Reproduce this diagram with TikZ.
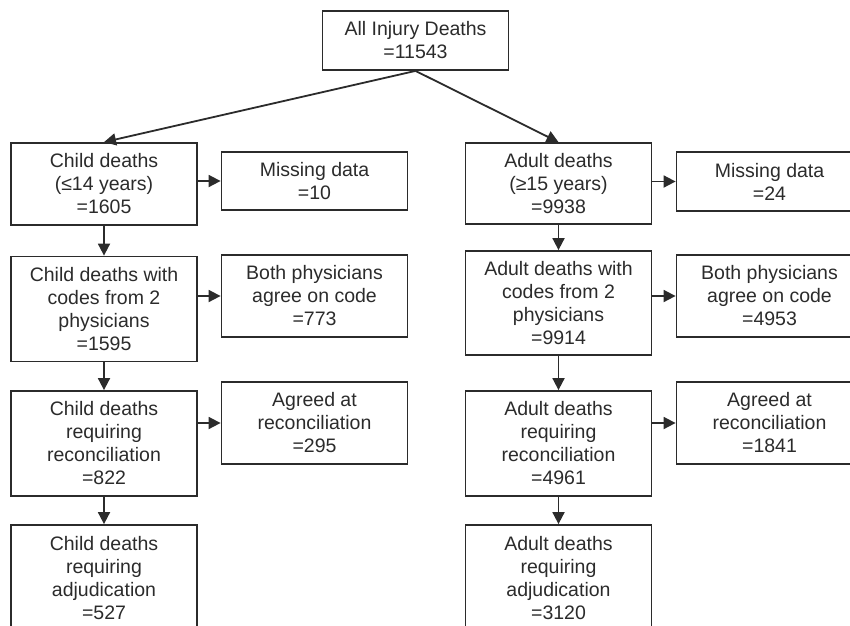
\documentclass[tikz,border=0pt]{standalone}
\usepackage{fontspec}
\setmainfont{Liberation Sans}
\definecolor{inkgray}{HTML}{2B2B2B}
\usepackage{tikz}
\usetikzlibrary{arrows.meta, positioning}
\newcommand{\stepdown}[2]
{
	\draw[inkgray, line width=1.8pt, -{Triangle[length=12pt, width=12pt]}] (#1.south) -- (#2.north)
}
\newcommand{\stepside}[2]
{
	\draw[inkgray, line width=1.8pt, -{Triangle[length=12pt, width=12pt]}] (#1.east |- #2.west) -- (#2.west)
}

\begin{document}
\begin{tikzpicture}[x=1pt, y=-1pt,
	every node/.append style={shape=rectangle, draw=inkgray, text=inkgray,
		align=center, inner sep=0pt, line width=1.8pt,
		font=\fontsize{19.5}{23}\selectfont},
	minimum width=186pt]
	\useasboundingbox (0,0) rectangle (850,625);
	\clip (0,0) rectangle (850,625);

	\node[minimum height=59pt] (T0) at (415.5,40.5) {All Injury Deaths\\=11543};

	\node[minimum height=82pt] (C1) at (104,184) {Child deaths\\(≤14 years)\\=1605};
	\node[minimum height=58pt] (CS1) at (314.5,181) {Missing data\\=10};
	\node[minimum height=105pt] (C2) at (104,309) {Child deaths with\\codes from 2\\physicians\\=1595};
	\node[minimum height=82pt] (CS2) at (314.5,296) {Both physicians\\agree on code\\=773};
	\node[minimum height=105pt] (C3) at (104,443.5) {Child deaths\\requiring\\reconciliation\\=822};
	\node[minimum height=82pt] (CS3) at (314.5,423) {Agreed at\\reconciliation\\=295};
	\node[minimum height=106pt] (C4) at (104,578) {Child deaths\\requiring\\adjudication\\=527};
	\stepdown{C1}{C2};
	\stepdown{C2}{C3};
	\stepdown{C3}{C4};
	\stepside{C1}{CS1};
	\stepside{C2}{CS2};
	\stepside{C3}{CS3};

	\node[minimum height=81pt] (A1) at (558.5,183.5) {Adult deaths\\(≥15 years)\\=9938};
	\node[minimum height=59pt] (AS1) at (769.5,181.5) {Missing data\\=24};
	\node[minimum height=104pt] (A2) at (558.5,303) {Adult deaths with\\codes from 2\\physicians\\=9914};
	\node[minimum height=82pt] (AS2) at (769.5,296) {Both physicians\\agree on code\\=4953};
	\node[minimum height=105pt] (A3) at (558.5,443.5) {Adult deaths\\requiring\\reconciliation\\=4961};
	\node[minimum height=82pt] (AS3) at (769.5,423) {Agreed at\\reconciliation\\=1841};
	\node[minimum height=106pt] (A4) at (558.5,578) {Adult deaths\\requiring\\adjudication\\=3120};
	\stepdown{A1}{A2};
	\stepdown{A2}{A3};
	\stepdown{A3}{A4};
	\stepside{A1}{AS1};
	\stepside{A2}{AS2};
	\stepside{A3}{AS3};

	\stepdown{T0}{C1};
	\stepdown{T0}{A1};
\end{tikzpicture}
\end{document}
